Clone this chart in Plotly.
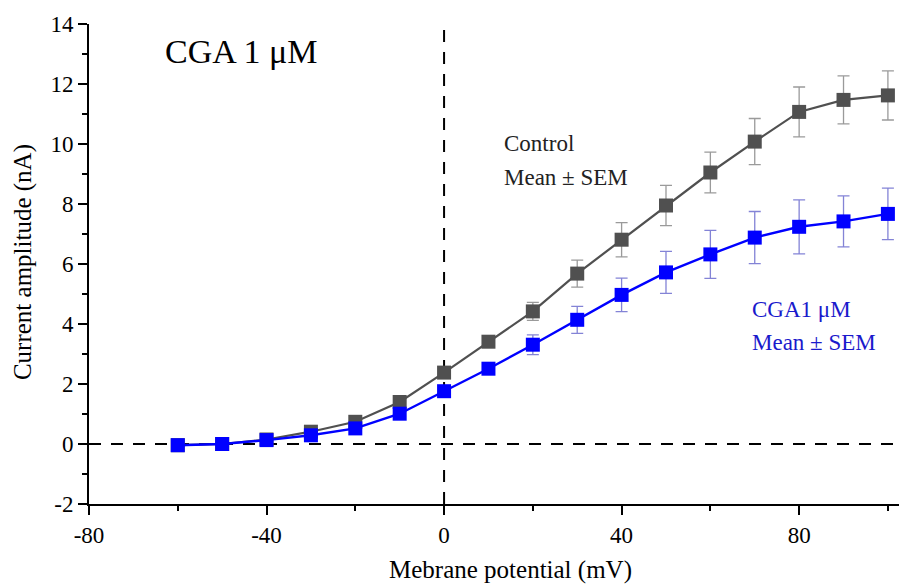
import plotly.graph_objects as go

# Membrane potential steps (mV)
voltage = [-60, -50, -40, -30, -20, -10, 0, 10, 20, 30, 40, 50, 60, 70, 80, 90, 100]

# Control: mean current (nA) and SEM
control_mean = [-0.04, 0.0, 0.15, 0.41, 0.74, 1.40, 2.38, 3.41, 4.42, 5.68, 6.81, 7.95, 9.05, 10.08, 11.07, 11.47, 11.62]
control_sem = [0.04, 0.04, 0.06, 0.08, 0.10, 0.13, 0.17, 0.18, 0.30, 0.45, 0.57, 0.67, 0.68, 0.77, 0.83, 0.80, 0.82]

# CGA 1 uM: mean current (nA) and SEM
cga_mean = [-0.04, 0.0, 0.13, 0.29, 0.52, 1.01, 1.76, 2.51, 3.31, 4.14, 4.97, 5.72, 6.32, 6.88, 7.24, 7.42, 7.67]
cga_sem = [0.04, 0.04, 0.05, 0.07, 0.09, 0.12, 0.14, 0.16, 0.33, 0.45, 0.56, 0.70, 0.80, 0.87, 0.90, 0.85, 0.86]

x_major = [-80, -40, 0, 40, 80]
x_minor = [-60, -20, 20, 60, 100]
y_major = [-2, 0, 2, 4, 6, 8, 10, 12, 14]
y_minor = [-1, 1, 3, 5, 7, 9, 11, 13]

FONT = "Liberation Serif, Times New Roman, serif"
GREY = "#505050"
BLUE = "#0000FF"

fig = go.Figure()

fig.add_trace(go.Scatter(
    x=voltage, y=control_mean, mode="lines+markers", name="Control",
    line=dict(color=GREY, width=2.2),
    marker=dict(symbol="square", size=14, color=GREY),
    error_y=dict(type="data", array=control_sem, visible=True,
                 color="rgba(120,120,120,0.75)", thickness=1.3, width=6),
))
fig.add_trace(go.Scatter(
    x=voltage, y=cga_mean, mode="lines+markers", name="CGA 1 μM",
    line=dict(color=BLUE, width=2.4),
    marker=dict(symbol="square", size=14, color=BLUE),
    error_y=dict(type="data", array=cga_sem, visible=True,
                 color="rgba(90,90,200,0.75)", thickness=1.3, width=6),
))

# Zero-current and zero-voltage reference lines
fig.add_shape(type="line", xref="x", yref="paper", x0=0, x1=0, y0=0, y1=1,
              line=dict(color="black", width=2, dash="12px,10px"), layer="below")
fig.add_shape(type="line", xref="paper", yref="y", x0=0, x1=1, y0=0, y1=0,
              line=dict(color="black", width=2, dash="12px,10px"), layer="below")

annots = [
    dict(x=-63.3, y=13.1, text="CGA 1 μM", size=34, color="black"),
    dict(x=13.0, y=10.03, text="Control", size=23, color="#222222"),
    dict(x=13.0, y=8.9, text="Mean ± SEM", size=23, color="#222222"),
    dict(x=68.9, y=4.47, text="CGA1 μM", size=23, color="#1a1acc"),
    dict(x=68.9, y=3.37, text="Mean ± SEM", size=23, color="#1a1acc"),
]
for a in annots:
    fig.add_annotation(x=a["x"], y=a["y"], xref="x", yref="y", text=a["text"],
                       showarrow=False, xanchor="left", yanchor="middle",
                       font=dict(family=FONT, size=a["size"], color=a["color"]))

# Axis titles
fig.add_annotation(x=0.52, y=-0.1375, xref="paper", yref="paper",
                   text="Mebrane potential (mV)", showarrow=False,
                   xanchor="center", yanchor="middle",
                   font=dict(family=FONT, size=25, color="black"))
fig.add_annotation(x=-0.0815, y=0.504, xref="paper", yref="paper",
                   text="Current amplitude (nA)", showarrow=False, textangle=-90,
                   xanchor="center", yanchor="middle",
                   font=dict(family=FONT, size=25, color="black"))

fig.update_layout(
    width=899, height=585,
    margin=dict(l=89, r=0, t=24, b=81),
    paper_bgcolor="white", plot_bgcolor="white",
    showlegend=False,
    font=dict(family=FONT, size=23, color="black"),
)
fig.update_xaxes(
    range=[-80, 102.5], tickvals=x_major, ticktext=[str(v) for v in x_major],
    showgrid=False, zeroline=False, showline=True, linecolor="black", linewidth=2,
    ticks="outside", ticklen=9, tickwidth=2, tickcolor="black",
    minor=dict(tickvals=x_minor, ticks="outside", ticklen=5,
               tickwidth=2, tickcolor="black", showgrid=False),
    tickfont=dict(family=FONT, size=23),
)
fig.update_yaxes(
    range=[-2, 14], tickvals=y_major, ticktext=[str(v) for v in y_major],
    showgrid=False, zeroline=False, showline=True, linecolor="black", linewidth=2,
    ticks="outside", ticklen=9, tickwidth=2, tickcolor="black",
    minor=dict(tickvals=y_minor, ticks="outside", ticklen=5,
               tickwidth=2, tickcolor="black", showgrid=False),
    tickfont=dict(family=FONT, size=23),
)

fig.write_html("out.html")
